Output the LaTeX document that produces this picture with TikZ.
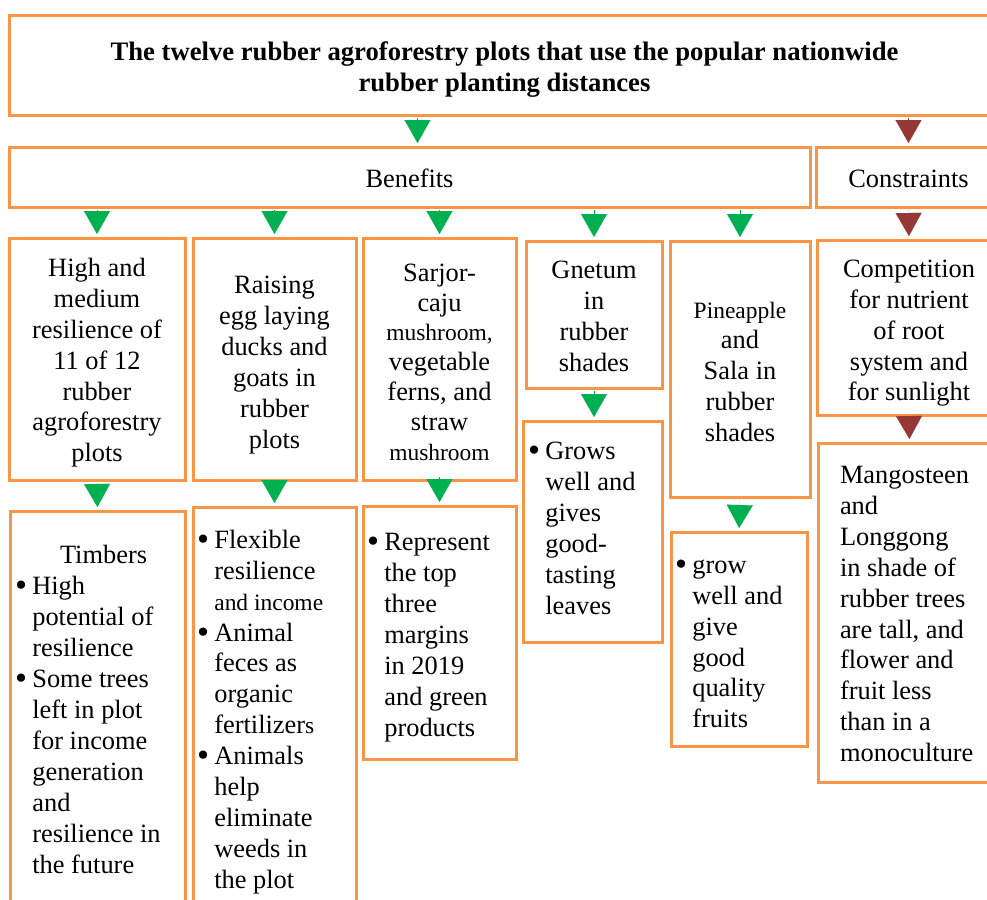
\documentclass[tikz,border=0pt]{standalone}
\usepackage{fontspec}
\usepackage{graphicx}
\setmainfont{Liberation Serif}
\usetikzlibrary{
  arrows.meta,
  positioning,
  calc,
}
\definecolor{boxline}{HTML}{F79646}
\definecolor{leaf}{HTML}{00B050}
\definecolor{brick}{HTML}{953735}
\setlength\parindent{0pt}
\newcommand\blt{\makebox[13pt][l]{\raisebox{-0.08em}{\scalebox{1.3}{\textbullet}}}}
\newcommand\bltgap{\hspace*{13pt}}
\newcommand\smallish{\fontsize{17.6}{23.2}\selectfont}
\tikzset{
  box/.style={
    draw=boxline,
    line width=2.25pt,
    inner sep=0pt,
    outer sep=0pt,
    anchor=north west,
    font=\fontsize{19.8}{23.2}\selectfont,
  },
  size/.style 2 args={minimum width=#1, minimum height=#2},
  % first line made taller / last line made deeper, to set the text lower or higher
  lift/.style={execute at begin node={\rule{0pt}{#1}}},
  sink/.style={execute at end node={\rule[-#1]{0pt}{#1}}},
  cbox/.style 2 args={box, size={#1}{#2}, text width=#1, align=flush center},
  listbox/.style={box, text width=#1, align=flush left},
  gain/.style={
    draw=leaf,
    line width=0.1pt,
    -{Triangle[width=19.5pt,length=17.25pt]},
    shorten >=3pt,
    shorten <=2pt,
  },
  limit/.style={gain, draw=brick},
}

\begin{document}
\begin{tikzpicture}[x=0.75pt,y=-0.75pt]
  \useasboundingbox (0,0) rectangle (987,899);
  \clip (0,0) rectangle (987,899);

  % heading
  \node[cbox={743.25pt}{74.25pt}, lift=20.5pt, font=\fontsize{20}{23.2}\selectfont\bfseries] (heading) at (9,16)
    {The twelve rubber agroforestry plots that use the popular nationwide\\rubber planting distances};
  \node[cbox={600.75pt}{45pt}, lift=16pt] (benefits) at (9,147) {Benefits};
  \node[cbox={138.75pt}{45pt}, lift=16pt] (constraints) at (816,147) {Constraints};

  % second row
  \node[cbox={132pt}{181.5pt}, lift=19.4pt] (resil) at (9,238)
    {High and\\medium\\resilience of\\11 of 12\\rubber\\agroforestry\\plots};
  \node[cbox={122.25pt}{181.5pt}, lift=22.4pt] (ducks) at (193,238)
    {Raising\\egg laying\\ducks and\\goats in\\rubber\\plots};
  \node[cbox={114.75pt}{181.5pt}, lift=17.9pt, font=\fontsize{19.8}{22.4}\selectfont] (mush) at (363,238)
    {Sarjor-\\caju\\{\smallish mushroom,}\\vegetable\\ferns, and\\straw\\{\smallish mushroom}};
  \node[cbox={102pt}{110.25pt}, lift=16.4pt] (gnetum) at (526,241) {Gnetum\\in\\rubber\\shades};
  \node[cbox={105pt}{192pt}, lift=16.5pt] (pine) at (670,241) {{\smallish Pineapple}\\and\\Sala in\\rubber\\shades};
  \node[cbox={138pt}{131.25pt}, lift=21.7pt] (compet) at (817,240)
    {Competition\\for nutrient\\of root\\system and\\for sunlight};

  % third row
  \node[listbox=123.75pt, size={131.25pt}{297pt}, lift=14.5pt] (timber) at (10,511)
    {\hspace*{33.75pt}Timbers\\\blt High\\\bltgap potential of\\\bltgap resilience\\
     \blt Some trees\\\bltgap left in plot\\\bltgap for income\\\bltgap generation\\
     \bltgap and\\\bltgap resilience in\\\bltgap the future};
  \node[listbox=116.25pt, size={122.25pt}{303pt}, lift=18.25pt] (animals) at (193,507)
    {\blt Flexible\\\bltgap resilience\\\bltgap{\smallish and income}\\
     \blt Animal\\\bltgap feces as\\\bltgap organic\\\bltgap fertilizer{\smallish s}\\
     \blt Animals\\\bltgap help\\\bltgap eliminate\\\bltgap weeds in\\\bltgap the plot};
  \node[listbox=108.75pt, size={114.75pt}{189.75pt}, lift=20.5pt] (margins) at (363,506)
    {\blt Represent\\\bltgap the top\\\bltgap three\\\bltgap margins\\\bltgap in 2019\\
     \bltgap and green\\\bltgap products};
  \node[listbox=96.75pt, size={104.25pt}{165.75pt}, sink=4.8pt] (leaves) at (523,421)
    {\blt Grows\\\bltgap well and\\\bltgap gives\\\bltgap good-\\\bltgap tasting\\\bltgap leaves};
  \node[listbox=96pt, size={102pt}{160.5pt}, lift=17.5pt] (fruits) at (671,532)
    {\blt grow\\\bltgap well and\\\bltgap give\\\bltgap good\\\bltgap quality\\\bltgap fruits};
  \node[listbox=104.25pt, size={137.25pt}{254.25pt}, lift=15.25pt] (mango) at (818,443)
    {Mangosteen\\and\\Longgong\\in shade of\\rubber trees\\are tall, and\\flower and\\fruit less\\than in a\\monoculture};

  % arrow heads
  \draw[gain] ($(benefits.north |- heading.south)+(8,0)$) -- ($(benefits.north)+(8,0)$);
  \draw[limit] (constraints.north |- heading.south) -- (constraints.north);
  \foreach \n in {resil,ducks,mush,gnetum,pine}
    \draw[gain] (benefits.south -| \n.north) -- (\n.north);
  \draw[limit] (constraints.south) -- (compet.north);
  \draw[gain] (resil.south) -- (timber.north);
  \draw[gain] (ducks.south) -- (animals.north);
  \draw[gain] (mush.south) -- (margins.north);
  \draw[gain] (gnetum.south) -- (gnetum.south |- leaves.north);
  \draw[gain] (pine.south) -- (fruits.north);
  \draw[limit] (compet.south) -- (mango.north);
\end{tikzpicture}
\end{document}
